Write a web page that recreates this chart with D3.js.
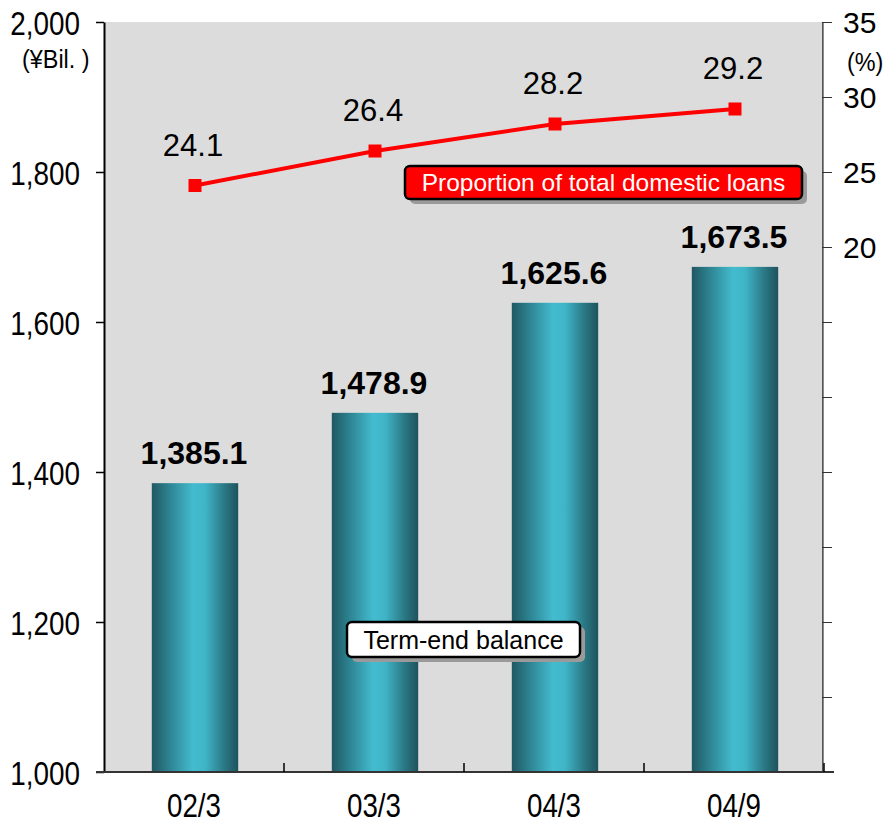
<!DOCTYPE html>
<html>
<head>
<meta charset="utf-8">
<script src="https://cdn.jsdelivr.net/npm/d3@7"></script>
<style>
  body { margin: 0; background: #fff; }
  svg { display: block; }
</style>
</head>
<body>
<script>
// chart data
const periods = ["02/3", "03/3", "04/3", "04/9"];
const balances = [1385.1, 1478.9, 1625.6, 1673.5];
const proportions = [24.1, 26.4, 28.2, 29.2];
const leftTicks = [1000, 1200, 1400, 1600, 1800, 2000];
const rightTicks = [-10, -5, 0, 5, 10, 15, 20, 25, 30, 35];

const W = 887, H = 823;
const plot = { left: 104, right: 824, top: 22, bottom: 772 };
const sans = "'Liberation Sans', Arial, sans-serif";

const svg = d3.select("body").append("svg")
  .attr("width", W)
  .attr("height", H);

// scales
const x = d3.scaleBand()
  .domain(periods)
  .range([plot.left, plot.right]);

const y = d3.scaleLinear()
  .domain([1000, 2000])
  .range([plot.bottom, plot.top]);

const y2 = d3.scaleLinear()
  .domain([-15, 35])
  .range([plot.bottom, plot.top]);

// bar gradient
const grad = svg.append("defs").append("linearGradient")
  .attr("id", "barGrad")
  .attr("x1", "0%").attr("x2", "100%")
  .attr("y1", "0%").attr("y2", "0%");
[[0, "#205863"], [0.18, "#2b7e8c"], [0.48, "#43bccf"], [0.62, "#3fb4c7"], [0.84, "#2a7884"], [1, "#1e535d"]]
  .forEach(s => grad.append("stop").attr("offset", s[0]).attr("stop-color", s[1]));

// plot background
svg.append("rect")
  .attr("x", plot.left)
  .attr("y", plot.top)
  .attr("width", plot.right - plot.left)
  .attr("height", plot.bottom - plot.top)
  .attr("fill", "#dcdcdc");

// bars
const barW = x.bandwidth() * 0.48;
svg.selectAll(".bar")
  .data(balances)
  .enter().append("rect")
  .attr("class", "bar")
  .attr("x", (d, i) => x(periods[i]) + x.bandwidth() / 2 - barW / 2 + 1)
  .attr("y", d => y(d))
  .attr("width", barW)
  .attr("height", d => y(1000) - y(d))
  .attr("fill", "url(#barGrad)");

// bar value labels
svg.selectAll(".bar-label")
  .data(balances)
  .enter().append("text")
  .attr("class", "bar-label")
  .attr("x", (d, i) => x(periods[i]) + x.bandwidth() / 2)
  .attr("y", d => y(d) - 19)
  .attr("text-anchor", "middle")
  .attr("font-family", sans)
  .attr("font-weight", "bold")
  .attr("font-size", 32)
  .text(d => d3.format(",.1f")(d));

// right border of plot
svg.append("line")
  .attr("x1", plot.right - 1).attr("x2", plot.right - 1)
  .attr("y1", plot.top).attr("y2", plot.bottom)
  .attr("stroke", "#8a8a8a")
  .attr("stroke-width", 2);

// left axis (condensed labels)
const sxL = 0.82;
const leftAxis = svg.append("g")
  .attr("transform", `translate(${plot.left},0)`)
  .call(d3.axisLeft(y).tickValues(leftTicks).tickFormat(d3.format(",")).tickSize(8).tickSizeOuter(0));
leftAxis.select(".domain").attr("stroke", "#000").attr("stroke-width", 2);
leftAxis.selectAll(".tick line").attr("stroke", "#000").attr("stroke-width", 1.5);
leftAxis.selectAll("text")
  .attr("x", -24 / sxL)
  .attr("dy", "0.36em")
  .attr("transform", `scale(${sxL},1)`)
  .attr("font-family", sans)
  .attr("font-size", 34)
  .attr("fill", "#000");

// right axis
const rightAxis = svg.append("g")
  .attr("transform", `translate(${plot.right - 2},0)`)
  .call(d3.axisRight(y2).tickValues(rightTicks).tickFormat(d => d >= 20 ? d : "").tickSize(10).tickSizeOuter(0));
rightAxis.select(".domain").attr("stroke", "#555").attr("stroke-width", 1);
rightAxis.selectAll(".tick line").attr("stroke", "#333");
rightAxis.selectAll("text")
  .attr("x", 21)
  .attr("dy", "0.36em")
  .attr("font-family", sans)
  .attr("font-size", 30)
  .attr("fill", "#000");

// bottom axis (condensed labels)
const sxB = 0.84;
const bottomAxis = svg.append("g")
  .attr("transform", `translate(0,${plot.bottom})`)
  .call(d3.axisBottom(x).tickSize(0).tickSizeOuter(0));
bottomAxis.select(".domain").remove();
bottomAxis.selectAll(".tick").each(function () {
  const t = d3.select(this);
  const tx = +t.attr("transform").match(/translate\(([-\d.]+)/)[1];
  t.attr("transform", `translate(${tx},0) scale(${sxB},1)`);
});
bottomAxis.selectAll("text")
  .attr("y", 45)
  .attr("dy", "0")
  .attr("font-family", sans)
  .attr("font-size", 33)
  .attr("fill", "#000");
svg.append("line")
  .attr("x1", plot.left - 8).attr("x2", plot.right + 10)
  .attr("y1", plot.bottom).attr("y2", plot.bottom)
  .attr("stroke", "#333")
  .attr("stroke-width", 2);
// category boundary ticks
svg.selectAll(".cat-tick")
  .data(periods.slice(1).concat(["end"]))
  .enter().append("line")
  .attr("class", "cat-tick")
  .attr("x1", d => d === "end" ? plot.right : x(d))
  .attr("x2", d => d === "end" ? plot.right : x(d))
  .attr("y1", plot.bottom)
  .attr("y2", plot.bottom - 9)
  .attr("stroke", "#000")
  .attr("stroke-width", 1.5);

// unit labels
svg.append("text")
  .attr("x", 22 / 0.9).attr("y", 68)
  .attr("transform", "scale(0.9,1)")
  .attr("font-family", sans)
  .attr("font-size", 26)
  .text("(¥Bil. )");
svg.append("text")
  .attr("x", 847 / 0.9).attr("y", 71)
  .attr("transform", "scale(0.9,1)")
  .attr("font-family", sans)
  .attr("font-size", 26)
  .text("(%)");

// proportion line
const cx = (d, i) => x(periods[i]) + x.bandwidth() / 2 + 1;
const line = d3.line()
  .x((d, i) => cx(d, i))
  .y(d => y2(d));
svg.append("path")
  .datum(proportions)
  .attr("d", line)
  .attr("fill", "none")
  .attr("stroke", "#ff0000")
  .attr("stroke-width", 4);
svg.selectAll(".marker")
  .data(proportions)
  .enter().append("rect")
  .attr("class", "marker")
  .attr("x", (d, i) => cx(d, i) - 6.5)
  .attr("y", d => y2(d) - 6.5)
  .attr("width", 13)
  .attr("height", 13)
  .attr("fill", "#ff0000");
svg.selectAll(".line-label")
  .data(proportions)
  .enter().append("text")
  .attr("class", "line-label")
  .attr("x", (d, i) => cx(d, i) - 2)
  .attr("y", d => y2(d) - 30)
  .attr("text-anchor", "middle")
  .attr("font-family", sans)
  .attr("font-size", 31)
  .text(d => d3.format(".1f")(d));

// callout boxes
function callout(bx, by, bw, bh, fill, color, size, label) {
  svg.append("rect")
    .attr("x", bx + 5).attr("y", by + 5)
    .attr("width", bw).attr("height", bh)
    .attr("rx", 5)
    .attr("fill", "#9a9a9a");
  svg.append("rect")
    .attr("x", bx).attr("y", by)
    .attr("width", bw).attr("height", bh)
    .attr("rx", 5)
    .attr("fill", fill)
    .attr("stroke", "#000")
    .attr("stroke-width", 2.5);
  svg.append("text")
    .attr("x", bx + bw / 2).attr("y", by + bh / 2)
    .attr("dy", "0.36em")
    .attr("text-anchor", "middle")
    .attr("font-family", sans)
    .attr("font-size", size)
    .attr("fill", color)
    .text(label);
}
callout(405, 166, 397, 33, "#ff0000", "#fff", 24.5, "Proportion of total domestic loans");
callout(347, 622, 233, 35, "#fff", "#000", 25, "Term-end balance");
</script>
</body>
</html>
